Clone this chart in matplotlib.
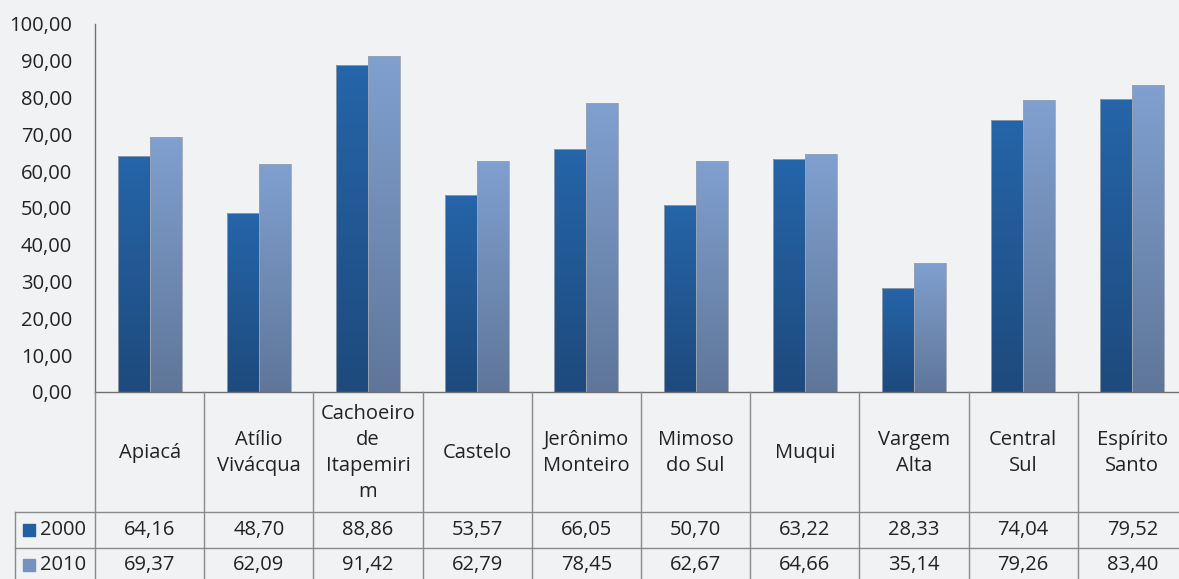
import numpy as np
import matplotlib.pyplot as plt
from matplotlib.ticker import FuncFormatter
from matplotlib.colors import LinearSegmentedColormap

plt.rcParams['font.family'] = ['Open Sans', 'DejaVu Sans']

# dados
municipios = ['Apiacá', 'Atílio\nVivácqua', 'Cachoeiro\nde\nItapemiri\nm', 'Castelo',
              'Jerônimo\nMonteiro', 'Mimoso\ndo Sul', 'Muqui', 'Vargem\nAlta',
              'Central\nSul', 'Espírito\nSanto']
v2000 = [64.16, 48.70, 88.86, 53.57, 66.05, 50.70, 63.22, 28.33, 74.04, 79.52]
v2010 = [69.37, 62.09, 91.42, 62.79, 78.45, 62.67, 64.66, 35.14, 79.26, 83.40]
anos = ['2000', '2010']
yticks = np.arange(0, 101, 10)

bg = '#F1F2F4'
W, H = 1179, 579
fig = plt.figure(figsize=(W / 100, H / 100), dpi=100, facecolor=bg)

# eixo principal (em pixels da imagem)
x0, ytop, ybot, cw = 95, 24, 392, 109.2
n = len(municipios)
ax = fig.add_axes([x0 / W, (H - ybot) / H, n * cw / W, (ybot - ytop) / H])
ax.set_facecolor(bg)
ax.set_xlim(0, n)
ax.set_ylim(0, 100)
for s in ['top', 'right', 'bottom']:
    ax.spines[s].set_visible(False)
ax.spines['left'].set_color('#707070')
ax.spines['left'].set_linewidth(1)
ax.set_xticks([])
ax.set_yticks(yticks)
ax.yaxis.set_major_formatter(FuncFormatter(lambda v, p: f'{v:.2f}'.replace('.', ',')))
ax.tick_params(axis='y', length=0, pad=16.5, labelsize=14.5, labelcolor='#222222')

cmap00 = LinearSegmentedColormap.from_list('c00', ['#1E4A7D', '#2565A9'])
cmap10 = LinearSegmentedColormap.from_list('c10', ['#5F7699', '#80A0D0'])
grad = np.linspace(0, 1, 256).reshape(-1, 1)

bw = 0.293
xs = np.arange(n) + 0.5
for vals, off, cmap in [(v2000, -bw, cmap00), (v2010, 0, cmap10)]:
    bars = ax.bar(xs + off, vals, width=bw, align='edge', color='none',
                  edgecolor='#9AA3B0', linewidth=0.6, zorder=3)
    for b in bars:
        x, w, h = b.get_x(), b.get_width(), b.get_height()
        im = ax.imshow(grad, cmap=cmap, origin='lower', aspect='auto',
                       extent=[x, x + w, 0, h], zorder=2)
        im.set_clip_path(b)
ax.set_xlim(0, n)
ax.set_ylim(0, 100)

# tabela de dados
tab_h = 192
tab = fig.add_axes([x0 / W, (H - ybot - tab_h) / H, n * cw / W, tab_h / H])
tab.set_xlim(0, n)
tab.set_ylim(tab_h, 0)
tab.axis('off')
lc = '#8A8A8A'
xleft = (15 - x0) / cw
r1, r2 = 120, 156
tab.plot([0, n], [0, 0], color='#707070', lw=1, clip_on=False)
for k in range(n + 1):
    tab.plot([k, k], [0, tab_h], color=lc, lw=1, clip_on=False)
tab.plot([xleft, xleft], [r1, tab_h], color=lc, lw=1, clip_on=False)
for yy in [r1, r2]:
    tab.plot([xleft, n], [yy, yy], color=lc, lw=1, clip_on=False)

fs = 14.5
for i, nome in enumerate(municipios):
    tab.text(i + 0.5, r1 / 2 + 1, nome, ha='center', va='center', fontsize=fs,
             linespacing=1.4, color='#222222')
    tab.text(i + 0.5, (r1 + r2) / 2, f'{v2000[i]:.2f}'.replace('.', ','),
             ha='center', va='center', fontsize=fs, color='#222222')
    tab.text(i + 0.5, r2 + 17, f'{v2010[i]:.2f}'.replace('.', ','),
             ha='center', va='center', fontsize=fs, color='#222222')

# legenda na tabela
for yy, ano, c in [((r1 + r2) / 2, anos[0], '#2360A3'), (r2 + 17, anos[1], '#7892C0')]:
    tab.scatter([(29 - x0) / cw], [yy], marker='s', s=75, color=c, clip_on=False)
    tab.text((40 - x0) / cw, yy, ano, ha='left', va='center', fontsize=fs,
             color='#222222', clip_on=False)

fig.savefig('out.png', dpi=100, facecolor=bg)
